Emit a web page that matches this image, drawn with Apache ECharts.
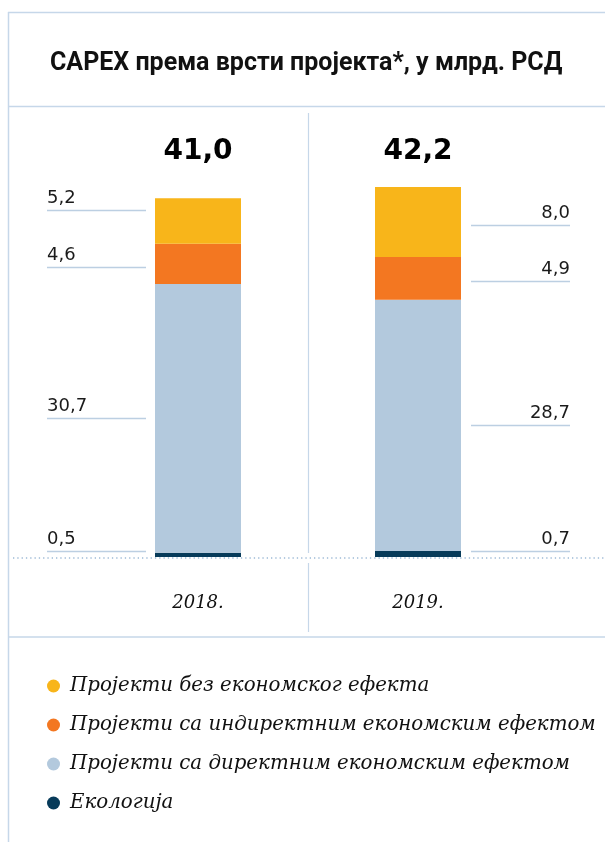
<!DOCTYPE html>
<html>
<head>
<meta charset="utf-8">
<script src="https://cdn.jsdelivr.net/npm/echarts@6/dist/echarts.min.js"></script>
<style>
  html, body { margin: 0; padding: 0; background: #fff; }
  #chart { width: 605px; height: 842px; }
</style>
</head>
<body>
<div id="chart"></div>
<script>
// Categories and values (млрд. РСД)
const years = ['2018.', '2019.'];
const ecology = [0.5, 0.7];
const direct = [30.7, 28.7];
const indirect = [4.6, 4.9];
const noEffect = [5.2, 8.0];
const totals = [41.0, 42.2];

const nameEcology = 'Екологија';
const nameDirect = 'Пројекти са директним економским ефектом';
const nameIndirect = 'Пројекти са индиректним економским ефектом';
const nameNoEffect = 'Пројекти без економског ефекта';
const legendOrder = [nameNoEffect, nameIndirect, nameDirect, nameEcology];

const COLORS = {
  ecology: '#073B5A',
  direct: '#B3C9DD',
  indirect: '#F37721',
  noEffect: '#F8B51A'
};
const RULE = '#c6d7e9';

const fmt = v => v.toFixed(1).replace('.', ',');

// Segments bottom-to-top, used for the side callouts
const stackOrder = [ecology, direct, indirect, noEffect];
const annotations = [];
years.forEach((_, i) => {
  let base = 0;
  stackOrder.forEach((arr, k) => {
    const v = arr[i];
    const mid = Math.max(base + v / 2, 0.65);
    annotations.push([i, mid, fmt(v), k]);
    base += v;
  });
});
const totalData = totals.map((t, i) => [i, t, fmt(t)]);

const chart = echarts.init(document.getElementById('chart'), null, { renderer: 'canvas' });

function bar(name, data, color) {
  return {
    name, type: 'bar', stack: 'capex', data,
    barWidth: 86,
    itemStyle: { color },
    emphasis: { disabled: true }
  };
}

chart.setOption({
  animation: false,
  title: {
    text: 'CAPEX према врсти пројекта*, у млрд. РСД',
    left: 45, top: 46,
    textStyle: { fontFamily: 'Roboto', fontWeight: 'bold', fontSize: 25, color: '#111' }
  },
  grid: { left: 88, right: 77, top: 119.5, bottom: 285 },
  xAxis: {
    type: 'category', data: years,
    axisLine: { show: false }, axisTick: { show: false },
    axisLabel: {
      margin: 37, fontFamily: 'DejaVu Serif', fontStyle: 'italic',
      fontSize: 18, color: '#111'
    }
  },
  yAxis: { type: 'value', min: 0, max: 50, show: false, splitLine: { show: false } },
  legend: {
    data: legendOrder,
    orient: 'vertical', left: 42, top: 671,
    icon: 'circle', itemWidth: 13, itemHeight: 13, itemGap: 19,
    selectedMode: false,
    textStyle: {
      fontFamily: 'DejaVu Serif', fontStyle: 'italic', fontSize: 19.8, color: '#111',
      padding: [0, 0, 0, 5]
    }
  },
  graphic: [
    { type: 'line', shape: { x1: 8.5, y1: 12, x2: 8.5, y2: 842 }, style: { stroke: RULE, lineWidth: 1.5 } },
    { type: 'line', shape: { x1: 8, y1: 12.5, x2: 605, y2: 12.5 }, style: { stroke: RULE, lineWidth: 1.5 } },
    { type: 'line', shape: { x1: 8, y1: 106.5, x2: 605, y2: 106.5 }, style: { stroke: RULE, lineWidth: 1.5 } },
    { type: 'line', shape: { x1: 8, y1: 637, x2: 605, y2: 637 }, style: { stroke: RULE, lineWidth: 1.5 } },
    { type: 'line', shape: { x1: 308.5, y1: 113, x2: 308.5, y2: 553 }, style: { stroke: RULE, lineWidth: 1.2 } },
    { type: 'line', shape: { x1: 308.5, y1: 563, x2: 308.5, y2: 632 }, style: { stroke: RULE, lineWidth: 1.2 } },
    { type: 'line', z: 10, shape: { x1: 13, y1: 558, x2: 605, y2: 558 }, style: { stroke: '#9dbad6', lineWidth: 1.3, lineDash: [1.3, 3] } }
  ],
  series: [
    bar(nameEcology, ecology, COLORS.ecology),
    bar(nameDirect, direct, COLORS.direct),
    bar(nameIndirect, indirect, COLORS.indirect),
    bar(nameNoEffect, noEffect, COLORS.noEffect),
    {
      // value callouts beside each bar segment
      type: 'custom', name: 'callouts', data: annotations, clip: false, silent: true,
      encode: { x: 0, y: 1 },
      renderItem(params, api) {
        const i = api.value(0);
        const k = api.value(3);
        const p = api.coord([i, api.value(1)]);
        const label = annotations[params.dataIndex][2];
        let nudge = 0;
        if (i === 0 && k === 3) nudge = -11;
        else if (k === 2 || (i === 1 && k === 3)) nudge = 3;
        const y = Math.round(p[1] + nudge) + 0.5;
        const left = i === 0;
        const x1 = left ? p[0] - 151 : p[0] + 53;
        const x2 = left ? p[0] - 52 : p[0] + 152;
        return {
          type: 'group',
          children: [
            { type: 'line', shape: { x1, y1: y, x2, y2: y }, style: { stroke: '#bccfe2', lineWidth: 1.5 } },
            {
              type: 'text',
              style: {
                text: label, x: left ? x1 : x2, y: y - 3,
                align: left ? 'left' : 'right', verticalAlign: 'bottom',
                font: '18px "DejaVu Sans"', fill: '#1a1a1a'
              }
            }
          ]
        };
      }
    },
    {
      // totals above the bars
      type: 'custom', name: 'totals', data: totalData, clip: false, silent: true,
      encode: { x: 0, y: 1 },
      renderItem(params, api) {
        const p = api.coord([api.value(0), 46.3]);
        return {
          type: 'text',
          style: {
            text: totalData[params.dataIndex][2], x: p[0], y: p[1],
            align: 'center', verticalAlign: 'middle',
            font: 'bold 28px "DejaVu Sans"', fill: '#000'
          }
        };
      }
    }
  ]
});
</script>
</body>
</html>
